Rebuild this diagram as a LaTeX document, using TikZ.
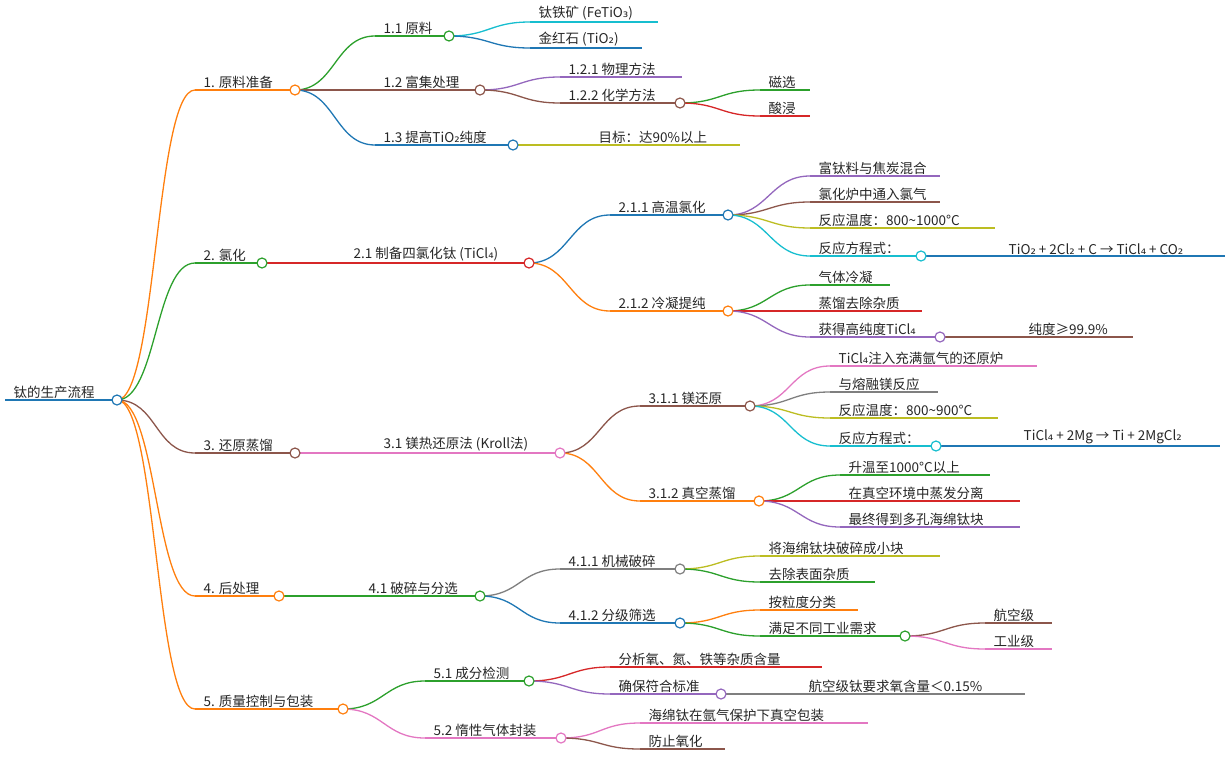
\documentclass[tikz,border=0pt]{standalone}
\usepackage{fontspec}
\setmainfont{Noto Sans CJK SC}
\newfontfamily\subfont{DejaVu Sans}
\newcommand{\sII}{{\subfont ₂}}
\newcommand{\sIII}{{\subfont ₃}}
\newcommand{\sIV}{{\subfont ₄}}
\usetikzlibrary{calc,positioning}
\definecolor{corange}{HTML}{FF7F0E}
\definecolor{cgreen}{HTML}{2CA02C}
\definecolor{cbrown}{HTML}{8C564B}
\definecolor{cblue}{HTML}{1F77B4}
\definecolor{ccyan}{HTML}{17BECF}
\definecolor{cpurple}{HTML}{9467BD}
\definecolor{cred}{HTML}{D62728}
\definecolor{colive}{HTML}{BCBD22}
\definecolor{cpink}{HTML}{E377C2}
\definecolor{cgray}{HTML}{7F7F7F}
\tikzset{
    lbl/.style={inner sep=1.5pt, anchor=south west, font=\fontsize{13.5}{15}\selectfont, text=black!85},
    uline/.style={line width=1.3pt},
    knob/.style={draw, fill=white, line width=1.2pt, circle, inner sep=0pt, minimum size=10pt}
}
% one branch: name, x start, x end, y, colour, text
\newcommand{\mm}[6]{
    \coordinate (#1l) at (#2,#4);
    \coordinate (#1r) at (#3,#4);
    \draw[#5, uline] (#1l) -- (#1r);
    \node[lbl] (#1) at ($(#1l)+(7,0)$) {#6};
}
% connector from parent end to child start
\newcommand{\link}[3]{
    \draw[#3, uline] (#1r) .. controls ($(#1r)+(40,0)$) and ($(#2l)+(-40,0)$) .. (#2l);
}
\newcommand{\knobat}[2]{\node[knob, draw=#2] at (#1r) {};}

\begin{document}
\begin{tikzpicture}[x=1pt, y=-1pt]
    \useasboundingbox (0,0) rectangle (1230,776);
    % root
    \mm{root}{5}{117}{400}{cblue}{钛的生产流程}
    \draw[cblue, line width=2.5pt] (rootl) -- (rootr);
    % level 1
    \mm{a}{195}{295}{90}{corange}{1. 原料准备}
    \mm{b}{195}{262}{263}{cgreen}{2. 氯化}
    \mm{c}{195}{295}{453}{cbrown}{3. 还原蒸馏}
    \mm{d}{195}{279}{596}{corange}{4. 后处理}
    \mm{e}{195}{343}{709}{corange}{5. 质量控制与包装}
    \link{root}{a}{corange}
    \link{root}{b}{cgreen}
    \link{root}{c}{cbrown}
    \link{root}{d}{corange}
    \link{root}{e}{corange}
    % 1
    \mm{a1}{375}{449}{36}{cgreen}{1.1 原料}
    \mm{a2}{375}{480}{90}{cbrown}{1.2 富集处理}
    \mm{a3}{375}{513}{145}{cblue}{1.3 提高TiO\sII 纯度}
    \link{a}{a1}{cgreen}
    \link{a}{a2}{cbrown}
    \link{a}{a3}{cblue}
    \mm{a11}{530}{658}{22}{ccyan}{钛铁矿 (FeTiO\sIII)}
    \mm{a12}{530}{642}{48}{cblue}{金红石 (TiO\sII)}
    \link{a1}{a11}{ccyan}
    \link{a1}{a12}{cblue}
    \mm{a21}{560}{682}{77}{cpurple}{1.2.1 物理方法}
    \mm{a22}{560}{680}{103}{cbrown}{1.2.2 化学方法}
    \link{a2}{a21}{cpurple}
    \link{a2}{a22}{cbrown}
    \mm{a221}{760}{810}{90}{cgreen}{磁选}
    \mm{a222}{760}{810}{116}{cred}{酸浸}
    \link{a22}{a221}{cgreen}
    \link{a22}{a222}{cred}
    \mm{a31}{590}{740}{145}{colive}{目标：达90\%以上}
    \link{a3}{a31}{colive}
    % 2
    \mm{b1}{345}{529}{263}{cred}{2.1 制备四氯化钛 (TiCl\sIV)}
    \link{b}{b1}{cred}
    \mm{b11}{610}{728}{215}{cblue}{2.1.1 高温氯化}
    \mm{b12}{610}{728}{311}{corange}{2.1.2 冷凝提纯}
    \link{b1}{b11}{cblue}
    \link{b1}{b12}{corange}
    \mm{b111}{810}{940}{176}{cpurple}{富钛料与焦炭混合}
    \mm{b112}{810}{940}{202}{cbrown}{氯化炉中通入氯气}
    \mm{b113}{810}{995}{228}{colive}{反应温度：800\textasciitilde1000°C}
    \mm{b114}{810}{921}{256}{ccyan}{反应方程式：}
    \link{b11}{b111}{cpurple}
    \link{b11}{b112}{cbrown}
    \link{b11}{b113}{colive}
    \link{b11}{b114}{ccyan}
    \mm{b1141}{1000}{1225}{256}{cblue}{TiO\sII{} + 2Cl\sII{} + C → TiCl\sIV{} + CO\sII}
    \link{b114}{b1141}{cblue}
    \mm{b121}{810}{890}{285}{cgreen}{气体冷凝}
    \mm{b122}{810}{922}{311}{cred}{蒸馏去除杂质}
    \mm{b123}{810}{940}{337}{cpurple}{获得高纯度TiCl\sIV}
    \link{b12}{b121}{cgreen}
    \link{b12}{b122}{cred}
    \link{b12}{b123}{cpurple}
    \mm{b1231}{1020}{1133}{337}{cbrown}{纯度≥99.9\%}
    \link{b123}{b1231}{cbrown}
    % 3
    \mm{c1}{375}{560}{453}{cpink}{3.1 镁热还原法 (Kroll法)}
    \link{c}{c1}{cpink}
    \mm{c11}{640}{750}{406}{cbrown}{3.1.1 镁还原}
    \mm{c12}{640}{759}{501}{corange}{3.1.2 真空蒸馏}
    \link{c1}{c11}{cbrown}
    \link{c1}{c12}{corange}
    \mm{c111}{830}{1037}{366}{cpink}{TiCl\sIV 注入充满氩气的还原炉}
    \mm{c112}{830}{938}{392}{cgray}{与熔融镁反应}
    \mm{c113}{830}{998}{418}{colive}{反应温度：800\textasciitilde900°C}
    \mm{c114}{830}{936}{446}{ccyan}{反应方程式：}
    \link{c11}{c111}{cpink}
    \link{c11}{c112}{cgray}
    \link{c11}{c113}{colive}
    \link{c11}{c114}{ccyan}
    \mm{c1141}{1015}{1220}{446}{cblue}{TiCl\sIV{} + 2Mg → Ti + 2MgCl\sII}
    \link{c114}{c1141}{cblue}
    \mm{c121}{840}{990}{475}{cgreen}{升温至1000°C以上}
    \mm{c122}{840}{1020}{501}{cred}{在真空环境中蒸发分离}
    \mm{c123}{840}{1020}{527}{cpurple}{最终得到多孔海绵钛块}
    \link{c12}{c121}{cgreen}
    \link{c12}{c122}{cred}
    \link{c12}{c123}{cpurple}
    % 4
    \mm{d1}{360}{480}{596}{cgreen}{4.1 破碎与分选}
    \link{d}{d1}{cgreen}
    \mm{d11}{560}{680}{569}{cgray}{4.1.1 机械破碎}
    \mm{d12}{560}{680}{623}{cblue}{4.1.2 分级筛选}
    \link{d1}{d11}{cgray}
    \link{d1}{d12}{cblue}
    \mm{d111}{760}{940}{556}{colive}{将海绵钛块破碎成小块}
    \mm{d112}{760}{875}{582}{cgreen}{去除表面杂质}
    \link{d11}{d111}{colive}
    \link{d11}{d112}{cgreen}
    \mm{d121}{760}{858}{610}{corange}{按粒度分类}
    \mm{d122}{760}{905}{636}{cgreen}{满足不同工业需求}
    \link{d12}{d121}{corange}
    \link{d12}{d122}{cgreen}
    \mm{d1221}{985}{1052}{623}{cbrown}{航空级}
    \mm{d1222}{985}{1052}{649}{cpink}{工业级}
    \link{d122}{d1221}{cbrown}
    \link{d122}{d1222}{cpink}
    % 5
    \mm{e1}{425}{529}{681}{cgreen}{5.1 成分检测}
    \mm{e2}{425}{561}{738}{cpink}{5.2 惰性气体封装}
    \link{e}{e1}{cgreen}
    \link{e}{e2}{cpink}
    \mm{e11}{610}{822}{667}{cred}{分析氧、氮、铁等杂质含量}
    \mm{e12}{610}{721}{694}{cpurple}{确保符合标准}
    \link{e1}{e11}{cred}
    \link{e1}{e12}{cpurple}
    \mm{e121}{800}{1025}{694}{cgray}{航空级钛要求氧含量＜0.15\%}
    \link{e12}{e121}{cgray}
    \mm{e21}{640}{868}{723}{cpink}{海绵钛在氩气保护下真空包装}
    \mm{e22}{640}{725}{749}{cbrown}{防止氧化}
    \link{e2}{e21}{cpink}
    \link{e2}{e22}{cbrown}
    % knobs on top
    \knobat{root}{cblue}
    \knobat{a}{corange} \knobat{b}{cgreen} \knobat{c}{cbrown}
    \knobat{d}{corange} \knobat{e}{corange}
    \knobat{a1}{cgreen} \knobat{a2}{cbrown} \knobat{a3}{cblue} \knobat{a22}{cbrown}
    \knobat{b1}{cred} \knobat{b11}{cblue} \knobat{b12}{corange}
    \knobat{b114}{ccyan} \knobat{b123}{cpurple}
    \knobat{c1}{cpink} \knobat{c11}{cbrown} \knobat{c12}{corange} \knobat{c114}{ccyan}
    \knobat{d1}{cgreen} \knobat{d11}{cgray} \knobat{d12}{cblue} \knobat{d122}{cgreen}
    \knobat{e1}{cgreen} \knobat{e2}{cpink} \knobat{e12}{cpurple}
\end{tikzpicture}
\end{document}
